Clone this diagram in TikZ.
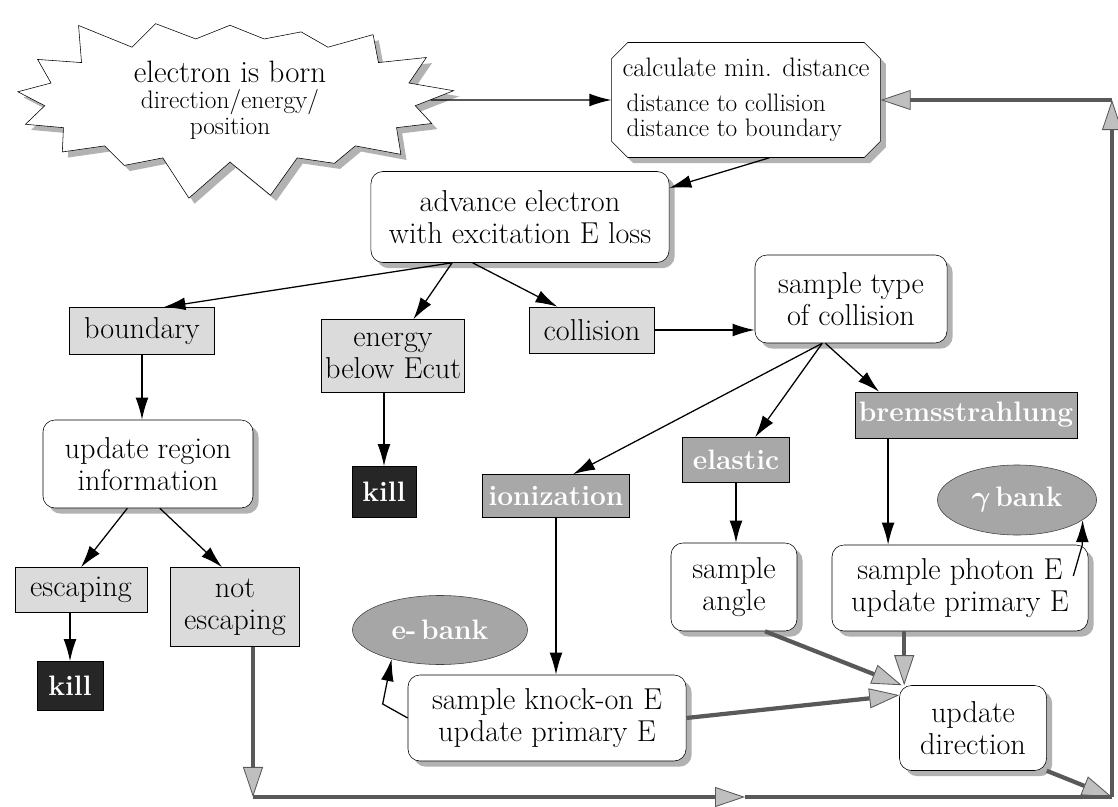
\documentclass[tikz,border=0pt]{standalone}
\usepackage{fontspec}
\usepackage{tikz}
\usetikzlibrary{calc}
\usetikzlibrary{shapes.misc, shapes.symbols, shapes.geometric}
\usetikzlibrary{shadows, arrows.meta}

\newcommand{\boxfont}{\fontsize{21.5}{23}\selectfont}
\newcommand{\titlefont}{\fontsize{19}{21}\selectfont}
\newcommand{\subfont}{\fontsize{18}{18}\selectfont}

\begin{document}
\begin{tikzpicture}[x=0.025cm, y=-0.025cm]
		\tikzstyle{boxshadow} = [drop shadow={shadow xshift=4pt, shadow yshift=-4pt, fill=gray!60, opacity=1}]
		\tikzstyle{procbox} = [draw, fill=white, rounded corners=0.3cm, align=center, font=\boxfont, inner sep=2pt, boxshadow]
		\tikzstyle{distbox} = [draw, fill=white, chamfered rectangle, chamfered rectangle xsep=0.2cm, chamfered rectangle ysep=0.2cm, align=left, font=\subfont, inner sep=2pt, boxshadow]
		\tikzstyle{bornstar} = [draw, fill=white, starburst, starburst points=17, starburst point height=1cm, random starburst=3, align=center, font=\subfont, boxshadow]
		\tikzstyle{lightbox} = [draw, fill=gray!28, align=center, font=\boxfont, inner sep=2pt]
		\tikzstyle{darkbox} = [draw, fill=gray!68, text=white, align=center, font=\fontsize{20}{22}\selectfont\bfseries, inner sep=2pt]
		\tikzstyle{killbox} = [draw, fill=black!85, text=white, font=\fontsize{20}{22}\selectfont\bfseries, inner sep=2pt]
		\tikzstyle{bankell} = [draw=gray!50!black, ellipse, fill=gray!70, text=white, font=\fontsize{20}{22}\selectfont\bfseries, inner sep=1pt]
		\tikzstyle{flow} = [draw, line width=0.9pt, -{Latex[length=0.55cm, width=0.32cm]}]
		\tikzstyle{loopline} = [draw=black!65, line width=3pt]
		\tikzstyle{loopflow} = [loopline, -{Triangle[length=0.75cm, width=0.5cm, fill=gray!50, line width=0.6pt]}]

		\path[use as bounding box, fill=white] (0,0) rectangle (1118,807);

		\node[bornstar, minimum width=11.3cm, minimum height=4.65cm] (born) at (230,100) {{\fontsize{22}{26}\selectfont electron is born}\\[1pt]direction/energy/\\position};
		\node[distbox, minimum width=6.7cm, minimum height=2.875cm] (dist) at (746,100) {{\titlefont calculate min. distance}\\[7pt]\hspace{3pt}distance to collision\\\hspace{3pt}distance to boundary};
		\node[procbox, minimum width=7.45cm, minimum height=2.275cm] (adv) at (520,217) {advance electron\\with excitation E loss};

		\node[lightbox, minimum width=3.625cm, minimum height=1.175cm] (bound) at (142,331) {boundary};
		\node[lightbox, minimum width=3.575cm, minimum height=1.825cm] (ecut) at (393,356) {energy\\below Ecut};
		\node[lightbox, minimum width=3.125cm, minimum height=1.15cm] (coll) at (592,330) {collision};
		\node[procbox, minimum width=4.8cm, minimum height=2.2cm] (stype) at (851,299) {sample type\\of collision};

		\node[darkbox, minimum width=5.55cm, minimum height=1.15cm] (brems) at (966,415) {bremsstrahlung};
		\node[darkbox, minimum width=2.675cm, minimum height=1.125cm] (elastic) at (736,460) {elastic};
		\node[darkbox, minimum width=3.675cm, minimum height=1.075cm] (ioniz) at (556,496) {ionization};
		\node[killbox, minimum width=1.6cm, minimum height=1.275cm] (killE) at (384,492) {kill};

		\node[procbox, minimum width=5.25cm, minimum height=2.2cm] (region) at (148,464) {update region\\information};
		\node[lightbox, minimum width=3.3cm, minimum height=1.125cm] (esc) at (81,590) {escaping};
		\node[killbox, minimum width=1.65cm, minimum height=1.225cm] (killB) at (70,686) {kill};
		\node[lightbox, minimum width=3.225cm, minimum height=1.975cm] (notesc) at (235,607) {not\\escaping};

		\node[bankell, minimum width=4.375cm, minimum height=1.725cm] (ebank) at (440,630) {e-\,bank};
		\node[procbox, minimum width=6.95cm, minimum height=2.15cm] (knock) at (547,718) {sample knock-on E\\update primary E};
		\node[procbox, minimum width=3.15cm, minimum height=2.2cm] (sangle) at (734,587) {sample\\angle};
		\node[procbox, minimum width=6.4cm, minimum height=2.15cm] (photon) at (960,588) {sample photon E\\update primary E};
		\node[bankell, minimum width=3.975cm, minimum height=1.75cm] (gbank) at (1017,500) {{\boldmath$\gamma$}\,bank};
		\node[procbox, minimum width=3.675cm, minimum height=2.125cm] (upd) at (973,728) {update\\direction};

		\coordinate (bl) at (253,797);
		\coordinate (bmid) at (745,797);
		\coordinate (br) at (1112,797);
		\coordinate (tr) at (1112,100);
		\coordinate (bremsout) at ($(brems.south west)!0.15!(brems.south east)$);
		\coordinate (updin) at ($(upd.north west)+(5,0)$);

		\draw[flow] (born) -- (dist);
		\draw[flow] (dist.292) -- (adv.11);
		\draw[flow] (adv.214) -- (bound.48);
		\draw[flow] (adv.214) -- (ecut.61);
		\draw[flow] (adv.224) -- (coll.146);
		\draw[flow] (coll) -- (coll -| stype.west);
		\draw[flow] (stype.237) -- (ioniz.52);
		\draw[flow] (stype.237) -- (elastic.50);
		\draw[flow] (stype.240) -- (brems.165);
		\draw[flow] (bound) -- (bound |- region.north);
		\draw[flow] (killE |- ecut.south) -- (killE);
		\draw[flow] (region.245) -- (esc.north);
		\draw[flow] (region.285) -- (notesc.108);
		\draw[flow] (killB |- esc.south) -- (killB);
		\draw[flow] (ioniz) -- (ioniz |- knock.north);
		\draw[flow] (elastic) -- (elastic |- sangle.north);
		\draw[flow] (bremsout) -- (bremsout |- photon.north);
		\draw[flow] (knock.west) -- ++(-25,-14) -- (ebank.211);
		\draw[flow] ($(photon.east)+(-15,-12)$) -- ($(photon.north east)+(-6,0)$) -- (gbank.343);

		\draw[loopflow] (sangle.305) -- (upd.149);
		\draw[loopflow] (knock.east) -- (upd.156);
		\draw[loopflow] (updin |- photon.south) -- (updin);
		\draw[loopflow] (upd.south east) -- (br);
		\draw[loopflow] (bl |- notesc.south) -- (bl);
		\draw[loopflow] (bl) -- (bmid);
		\draw[loopline] (bmid) -- (br);
		\draw[loopflow] (br) -- (tr);
		\draw[loopflow] (tr) -- (dist.east);

\end{tikzpicture}
\end{document}
